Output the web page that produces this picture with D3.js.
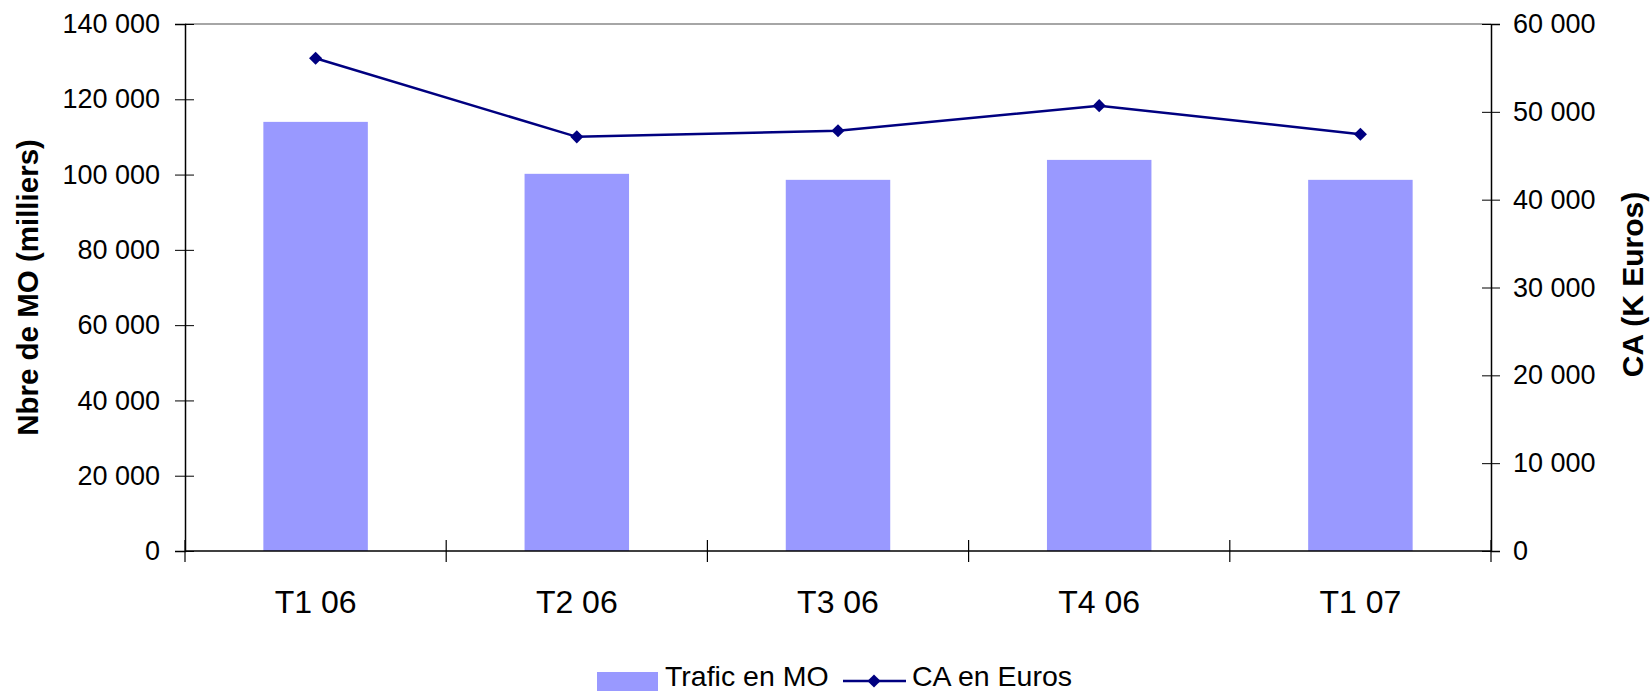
<!DOCTYPE html>
<html>
<head>
<meta charset="utf-8">
<script src="https://cdn.jsdelivr.net/npm/d3@7"></script>
<style>
  body { margin: 0; background: #fff; }
  svg text { font-family: "Liberation Sans", Arial, sans-serif; }
</style>
</head>
<body>
<div id="chart"></div>
<script>
var quarters = ["T1 06", "T2 06", "T3 06", "T4 06", "T1 07"];
var trafic = [114000, 100200, 98600, 103900, 98600];
var caEuros = [56100, 47150, 47850, 50700, 47450];
var leftTicks = [0, 20000, 40000, 60000, 80000, 100000, 120000, 140000];
var rightTicks = [0, 10000, 20000, 30000, 40000, 50000, 60000];

var width = 1650, height = 691;
var margin = {top: 24, right: 159, bottom: 140, left: 185};
var w = width - margin.left - margin.right,
    h = height - margin.top - margin.bottom;

var fmt = function(d) { return d3.format(",")(d).replace(/,/g, " "); };

var svg = d3.select("#chart").append("svg")
    .attr("width", width)
    .attr("height", height);

var g = svg.append("g")
    .attr("transform", "translate(" + margin.left + "," + margin.top + ")");

var x = d3.scaleBand().domain(quarters).range([0, w]).padding(0);
var yL = d3.scaleLinear().domain([0, 140000]).range([h, 0]);
var yR = d3.scaleLinear().domain([0, 60000]).range([h, 0]);

// top border of plot area
g.append("line")
  .attr("x1", 0).attr("x2", w).attr("y1", 0).attr("y2", 0)
  .attr("stroke", "#888").attr("stroke-width", 1.5);

// bars
var barW = x.bandwidth() * 0.4;
g.selectAll(".bar")
  .data(trafic)
  .enter().append("rect")
    .attr("class", "bar")
    .attr("x", function(d, i) { return x(quarters[i]) + (x.bandwidth() - barW) / 2; })
    .attr("y", function(d) { return yL(d); })
    .attr("width", barW)
    .attr("height", function(d) { return h - yL(d); })
    .attr("fill", "#9999ff");

// left axis
var left = g.append("g")
  .call(d3.axisLeft(yL).tickValues(leftTicks).tickFormat(fmt).tickSize(10).tickPadding(15));
left.selectAll(".tick line").attr("x2", -10).attr("x1", 9);
left.selectAll("text").attr("font-size", 27).attr("fill", "#000");
left.select(".domain").attr("stroke-width", 1.5);

// right axis
var right = g.append("g")
  .attr("transform", "translate(" + w + ",0)")
  .call(d3.axisRight(yR).tickValues(rightTicks).tickFormat(fmt).tickSize(9).tickPadding(13));
right.selectAll(".tick line").attr("x1", -9);
right.selectAll("text").attr("font-size", 27).attr("fill", "#000");
right.select(".domain").attr("stroke-width", 1.5);

// bottom axis: ticks at category boundaries
var bottom = g.append("g")
  .attr("transform", "translate(0," + h + ")");
bottom.append("line")
  .attr("x1", 0).attr("x2", w).attr("stroke", "#000").attr("stroke-width", 1.5);
var bounds = quarters.map(function(q) { return x(q); }).concat([w]);
bottom.selectAll(".btick")
  .data(bounds)
  .enter().append("line")
    .attr("x1", function(d) { return d; }).attr("x2", function(d) { return d; })
    .attr("y1", -11).attr("y2", 11)
    .attr("stroke", "#000").attr("stroke-width", 1.2);
bottom.selectAll(".blabel")
  .data(quarters)
  .enter().append("text")
    .attr("x", function(d) { return x(d) + x.bandwidth() / 2; })
    .attr("y", 62)
    .attr("text-anchor", "middle")
    .attr("font-size", 32)
    .text(function(d) { return d; });

// line series
var line = d3.line()
  .x(function(d, i) { return x(quarters[i]) + x.bandwidth() / 2; })
  .y(function(d) { return yR(d); });

g.append("path")
  .datum(caEuros)
  .attr("d", line)
  .attr("fill", "none")
  .attr("stroke", "#000080")
  .attr("stroke-width", 2.5);

var diamond = d3.symbol().type(d3.symbolDiamond2).size(110);
g.selectAll(".pt")
  .data(caEuros)
  .enter().append("path")
    .attr("d", diamond)
    .attr("transform", function(d, i) {
      return "translate(" + (x(quarters[i]) + x.bandwidth() / 2) + "," + yR(d) + ")";
    })
    .attr("fill", "#000080");

// axis titles
svg.append("text")
  .attr("transform", "translate(38," + (margin.top + h / 2) + ") rotate(-90)")
  .attr("text-anchor", "middle")
  .attr("font-size", 29.5)
  .attr("font-weight", "bold")
  .text("Nbre de MO (milliers)");

svg.append("text")
  .attr("transform", "translate(1643," + (margin.top + h / 2 - 3) + ") rotate(-90)")
  .attr("text-anchor", "middle")
  .attr("font-size", 30)
  .attr("font-weight", "bold")
  .text("CA (K Euros)");

// legend
var leg = svg.append("g");
leg.append("rect")
  .attr("x", 597).attr("y", 672).attr("width", 61).attr("height", 22)
  .attr("fill", "#9999ff");
leg.append("text")
  .attr("x", 665).attr("y", 686)
  .attr("font-size", 28.5)
  .text("Trafic en MO");
leg.append("line")
  .attr("x1", 843).attr("x2", 906).attr("y1", 681).attr("y2", 681)
  .attr("stroke", "#000080").attr("stroke-width", 2.5);
leg.append("path")
  .attr("d", diamond)
  .attr("transform", "translate(874,681)")
  .attr("fill", "#000080");
leg.append("text")
  .attr("x", 912).attr("y", 686)
  .attr("font-size", 28.5)
  .text("CA en Euros");
</script>
</body>
</html>
